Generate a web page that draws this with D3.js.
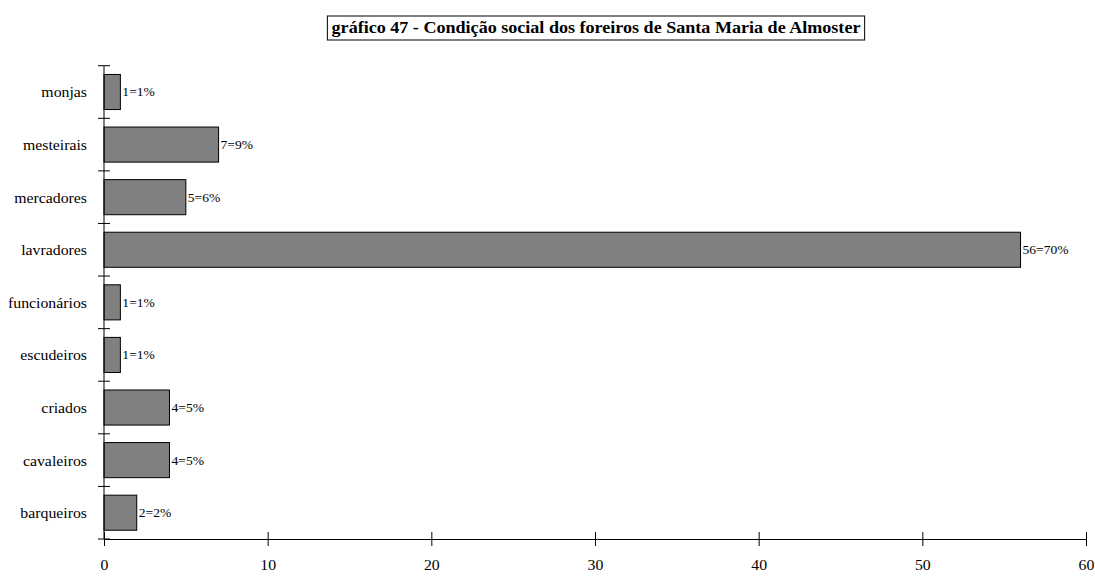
<!DOCTYPE html>
<html><head><meta charset="utf-8">
<script src="https://cdn.jsdelivr.net/npm/d3@7/dist/d3.min.js"></script>
<style>body{margin:0;background:#fff}svg{display:block}
svg text{font-family:"Liberation Serif","Times New Roman",serif !important;fill:#000}</style>
</head><body>
<svg id="c" width="1095" height="576"></svg>
<script>
const categories = ["monjas","mesteirais","mercadores","lavradores","funcionários","escudeiros","criados","cavaleiros","barqueiros"];
const values = [1,7,5,56,1,1,4,4,2];
const labels = ["1=1%","7=9%","5=6%","56=70%","1=1%","1=1%","4=5%","4=5%","2=2%"];
const xTicks = [0,10,20,30,40,50,60];
const title = "gráfico 47 - Condição social dos foreiros de Santa Maria de Almoster";

const SX = 1.13; // horizontal stretch of the glyphs in the reference
const svg = d3.select("#c");
const pLeft = 104, pRight = 1086, pTop = 65.7, pBottom = 539;
const x = d3.scaleLinear().domain([0,60]).range([pLeft,pRight]);
const y = d3.scaleBand().domain(categories).range([pTop,pBottom]).paddingInner(0.333).paddingOuter(0.1665);

// title box
const tg = svg.append("g");
const tt = tg.append("text").attr("text-anchor","middle")
  .attr("transform",`translate(596,33) scale(${SX},1)`)
  .attr("font-weight","bold").attr("font-size",16).text(title);
const bw = tt.node().getBBox().width * SX;
tg.insert("rect","text").attr("x",596-bw/2-4).attr("y",16).attr("width",bw+8).attr("height",24)
  .attr("fill","#fff").attr("stroke","#000").attr("stroke-width",1);

// bars
svg.append("g").selectAll("rect").data(categories).join("rect")
  .attr("x",x(0)).attr("y",d=>y(d)).attr("width",(d,i)=>x(values[i])-x(0)).attr("height",y.bandwidth())
  .attr("fill","#808080").attr("stroke","#000").attr("stroke-width",1);

svg.append("g").selectAll("text").data(categories).join("text")
  .attr("transform",(d,i)=>`translate(${x(values[i])+2},${y(d)+y.bandwidth()/2+4.5}) scale(${SX},1)`)
  .attr("font-size",12).text((d,i)=>labels[i]);

// y axis
const ya = svg.append("g");
ya.append("line").attr("x1",pLeft).attr("x2",pLeft).attr("y1",pTop).attr("y2",pBottom).attr("stroke","#000");
const step = y.step();
d3.range(categories.length+1).forEach(i=>{
  const yy = pTop + i*step;
  ya.append("line").attr("x1",pLeft-6).attr("x2",pLeft+6).attr("y1",yy).attr("y2",yy).attr("stroke","#000");
});
ya.selectAll("text.cat").data(categories).join("text").attr("class","cat")
  .attr("transform",d=>`translate(87,${y(d)+y.bandwidth()/2+5.5}) scale(${SX},1)`)
  .attr("text-anchor","end")
  .attr("font-size",14).text(d=>d);

// x axis
const xa = svg.append("g").attr("transform",`translate(0,${pBottom})`)
  .call(d3.axisBottom(x).tickValues(xTicks).tickSizeInner(7).tickSizeOuter(0).tickPadding(14));
xa.select(".domain").attr("stroke","#000");
xa.selectAll(".tick line").attr("y1",-7).attr("y2",7).attr("stroke","#000");
xa.selectAll(".tick text").attr("font-size",14).each(function(){
  const t = d3.select(this);
  const yy = +t.attr("y");
  t.attr("y",0).attr("dy",null).attr("transform",`translate(0,${yy+10}) scale(${SX},1)`);
});
</script>
</body></html>
